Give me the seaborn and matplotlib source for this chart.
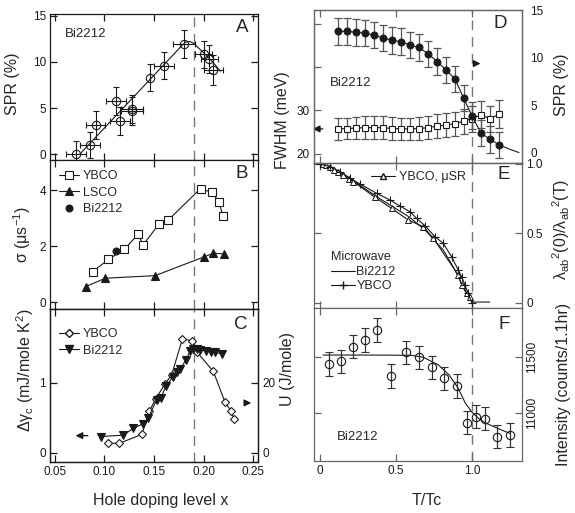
import matplotlib
matplotlib.use("Agg")
import matplotlib.pyplot as plt
from matplotlib.lines import Line2D
import seaborn as sns

# ---- panel A: SPR of Bi2212 vs hole doping
a_x = [0.071, 0.085, 0.091, 0.112, 0.116, 0.128, 0.128, 0.146, 0.160, 0.180, 0.200, 0.206, 0.210]
a_spr = [0.0, 1.0, 3.2, 5.8, 3.6, 4.9, 4.7, 8.3, 9.6, 11.9, 10.8, 10.3, 9.1]
a_xerr = [0.01, 0.01, 0.01, 0.01, 0.01, 0.011, 0.011, 0.0, 0.0105, 0.011, 0.009, 0.009, 0.01]
a_yerr = [1.45, 1.45, 1.5, 1.5, 1.5, 1.5, 1.5, 1.5, 1.5, 1.5, 1.5, 1.5, 1.6]
a_fit_x = [0.075, 0.178, 0.182, 0.186, 0.190, 0.200, 0.210, 0.217]
a_fit_y = [0.0, 11.75, 12.15, 12.2, 12.0, 11.0, 9.9, 9.0]

# ---- panel B: muSR relaxation rate
b_ybco_x = [0.088, 0.104, 0.120, 0.134, 0.139, 0.155, 0.1645, 0.197, 0.2086, 0.2157, 0.2197]
b_ybco = [1.09, 1.53, 1.89, 2.43, 2.05, 2.79, 2.94, 4.06, 3.92, 3.57, 3.07]
b_lsco_x = [0.081, 0.101, 0.151, 0.2005, 0.210, 0.2207]
b_lsco = [0.56, 0.86, 0.95, 1.62, 1.75, 1.73]
b_bi_x = [0.1116]
b_bi = [1.83]

# ---- panel C: specific heat jump / condensation energy
c_ybco_x = [0.104, 0.115, 0.1376, 0.1453, 0.1517, 0.1611, 0.1678, 0.1786, 0.1884, 0.1937,
            0.2099, 0.2217, 0.2275, 0.2308]
c_ybco = [0.134, 0.134, 0.26, 0.59, 0.77, 0.98, 1.11, 1.62, 1.60, 1.43, 1.16, 0.72, 0.60, 0.48]
c_bi_x = [0.0961, 0.119, 0.129, 0.1384, 0.144, 0.1527, 0.1568, 0.1621, 0.1695, 0.1735, 0.1763,
          0.1823, 0.1864, 0.1898, 0.1932, 0.1965, 0.2025, 0.2072, 0.2116, 0.219]
c_bi_u = [4.6, 5.0, 6.9, 8.2, 9.8, 15.1, 15.5, 19.1, 21.7, 22.9, 23.8, 26.5, 28.9, 29.5,
          29.5, 29.4, 29.0, 28.8, 28.6, 28.2]

# ---- panel D: Bi2212 FWHM and SPR vs T/Tc
d_t = [0.116, 0.175, 0.237, 0.296, 0.355, 0.414, 0.474, 0.533, 0.592, 0.651, 0.713, 0.772,
       0.831, 0.89, 0.945, 1.0, 1.06, 1.12, 1.18]
d_spr = [12.8, 12.8, 12.7, 12.6, 12.4, 12.1, 11.85, 11.7, 11.35, 11.1, 10.4, 9.6, 8.7, 7.75,
         5.75, 3.9, 2.05, 1.4, 0.8]
d_spr_err = [1.4] * 19
d_fwhm = [25.7, 25.8, 25.9, 26.0, 26.0, 26.0, 25.8, 25.75, 25.7, 25.8, 26.0, 26.4, 26.6, 26.9,
          27.5, 28.1, 29.0, 28.0, 29.2]
d_fwhm_err = [2.5, 2.5, 2.6, 2.6, 2.6, 2.6, 2.6, 2.6, 2.6, 2.6, 2.7, 2.7, 2.8, 2.8, 2.9, 3.0,
              3.1, 3.1, 3.2]
d_tail_t = [1.18, 1.25, 1.31]
d_tail_spr = [0.8, 0.35, 0.0]

# ---- panel E: superfluid density
e_ybco_t = [0.0, 0.066, 0.132, 0.197, 0.263, 0.373, 0.461, 0.526, 0.592, 0.636, 0.691, 0.757,
            0.811, 0.866, 0.910, 0.932, 0.954, 0.976, 1.0]
e_ybco = [1.0, 0.981, 0.945, 0.897, 0.856, 0.788, 0.74, 0.697, 0.656, 0.608, 0.555, 0.476,
          0.428, 0.332, 0.236, 0.188, 0.128, 0.067, 0.0]
e_bi_t = [0.0, 0.154, 0.373, 0.592, 0.702, 0.811, 0.877, 0.921, 0.965, 1.0, 1.118]
e_bi = [1.0, 0.928, 0.764, 0.615, 0.512, 0.380, 0.259, 0.163, 0.067, 0.005, 0.005]
e_musr_t = [0.02, 0.04, 0.066, 0.09, 0.12, 0.154, 0.19, 0.219, 0.362, 0.471, 0.581, 0.68,
            0.746, 0.910, 0.932, 0.965, 0.987]
e_musr = [1.0, 0.99, 0.98, 0.96, 0.94, 0.921, 0.89, 0.873, 0.76, 0.68, 0.596, 0.548, 0.464,
          0.2, 0.128, 0.067, 0.043]

# ---- panel F: neutron intensity
f_t = [0.061, 0.138, 0.215, 0.298, 0.377, 0.465, 0.564, 0.653, 0.735, 0.814, 0.903, 0.965,
       1.024, 1.086, 1.167, 1.248]
f_int = [11439, 11464, 11596, 11656, 11747, 11331, 11545, 11500, 11410, 11310, 11241, 10909,
         10963, 10946, 10783, 10798]
f_err = [105] * 16
f_fit_t = [0.02, 0.3, 0.6, 0.68, 0.78, 0.85, 0.91, 0.955, 1.0, 1.05, 1.1, 1.2, 1.25]
f_fit = [11520, 11520, 11518, 11500, 11430, 11340, 11220, 11090, 11005, 10940, 10900, 10840, 10813]

sns.set_theme(style="ticks")
plt.rcParams["font.family"] = ["Liberation Sans", "DejaVu Sans"]
plt.rcParams["mathtext.fontset"] = "custom"
plt.rcParams["mathtext.rm"] = "Liberation Sans"
plt.rcParams["mathtext.it"] = "Liberation Sans:italic"

fig = plt.figure(figsize=(5.75, 5.13), dpi=100)
W, H = 575.0, 513.0


def box(x0, x1, y0, y1):
    return [x0 / W, 1 - y1 / H, (x1 - x0) / W, (y1 - y0) / H]


ax_a = fig.add_axes(box(50, 258, 14, 160))
ax_b = fig.add_axes(box(50, 258, 160, 309))
ax_c = fig.add_axes(box(50, 258, 309, 462))
ax_d = fig.add_axes(box(314, 522, 10, 163))
ax_e = fig.add_axes(box(314, 522, 163, 308))
ax_f = fig.add_axes(box(314, 522, 308, 461))

TS = 8.5
LS = 11.5


def style(ax, col):
    for s in ax.spines.values():
        s.set_color(col)
        s.set_linewidth(0.9)
    ax.tick_params(direction="in", length=5, width=0.9, color=col, top=True, right=True,
                   labelsize=TS, pad=3, labelcolor="k")


def ylab(ax, text, x, y):
    ax.set_ylabel(text, fontsize=LS)
    ax.yaxis.set_label_coords(x, y)
    ax.yaxis.label.set_va("center")
    ax.yaxis.label.set_ha("center")


def xlab(ax, text, x, y):
    ax.set_xlabel(text, fontsize=LS)
    ax.xaxis.set_label_coords(x, y)
    ax.xaxis.label.set_va("center")


dash = dict(color="#777777", lw=1.0, ls=(0, (7, 5)), zorder=0)
arrow = dict(arrowstyle="-|>", color="k", lw=1.0, mutation_scale=10)
legkw = dict(frameon=False, fontsize=9, handlelength=1.6, handletextpad=0.3,
             labelspacing=0.35, borderaxespad=0.3)

# ---------------- A
style(ax_a, "k")
ax_a.axvline(0.19, **dash)
sns.lineplot(x=a_fit_x, y=a_fit_y, ax=ax_a, color="k", lw=0.8, sort=False, estimator=None)
ax_a.errorbar(a_x, a_spr, yerr=a_yerr, xerr=a_xerr, fmt="o", mfc="none", mec="k", ms=6,
              mew=0.8, ecolor="k", elinewidth=0.8, capsize=2.5, capthick=0.8)
ax_a.set_xlim(0.045, 0.255)
ax_a.set_ylim(-0.62, 15.18)
ax_a.set_xticks([0.05, 0.10, 0.15, 0.20, 0.25])
ax_a.set_yticks([0, 5, 10, 15])
ax_a.tick_params(labelbottom=False)
ylab(ax_a, "SPR (%)", -0.18, 0.52)
ax_a.text(0.07, 0.86, "Bi2212", transform=ax_a.transAxes, fontsize=9.5, va="center")
ax_a.text(0.955, 0.91, "A", transform=ax_a.transAxes, fontsize=13.5, ha="right", va="center")

# ---------------- B
style(ax_b, "k")
ax_b.axvline(0.19, **dash)
sns.lineplot(x=b_ybco_x, y=b_ybco, ax=ax_b, color="k", lw=0.8, marker="s", ms=5.5,
             mfc="white", mec="k", mew=0.8, sort=False, estimator=None, label="YBCO")
sns.lineplot(x=b_lsco_x, y=b_lsco, ax=ax_b, color="k", lw=0.8, marker="^", ms=5.5,
             mfc="k", mec="k", mew=0.8, sort=False, estimator=None, label="LSCO")
sns.lineplot(x=b_bi_x, y=b_bi, ax=ax_b, color="k", lw=0, marker="o", ms=5,
             mfc="k", mec="k", sort=False, estimator=None, label="Bi2212")
ax_b.set_xlim(0.045, 0.255)
ax_b.set_ylim(-0.24, 5.08)
ax_b.set_xticks([0.05, 0.10, 0.15, 0.20, 0.25])
ax_b.set_yticks([0, 2, 4])
ax_b.tick_params(labelbottom=False)
ylab(ax_b, "σ (μs$^{-1}$)", -0.135, 0.5)
ax_b.legend(loc="upper left", bbox_to_anchor=(0.0, 0.99), **legkw)
ax_b.text(0.95, 0.91, "B", transform=ax_b.transAxes, fontsize=13.5, ha="right", va="center")

# ---------------- C
style(ax_c, "k")
ax_c.tick_params(right=False)
ax_c.axvline(0.19, **dash)
sns.lineplot(x=c_ybco_x, y=c_ybco, ax=ax_c, color="k", lw=0.8, marker="D", ms=4,
             mfc="white", mec="k", mew=0.8, sort=False, estimator=None, legend=False)
ax_c2 = ax_c.twinx()
style(ax_c2, "k")
ax_c2.tick_params(left=False, top=False, right=True, labelright=True)
sns.lineplot(x=c_bi_x, y=c_bi_u, ax=ax_c2, color="k", lw=0.8, marker="v", ms=5.5,
             mfc="k", mec="k", mew=0.8, sort=False, estimator=None, legend=False)
ax_c.set_xlim(0.045, 0.255)
ax_c.set_ylim(-0.133, 2.05)
ax_c2.set_ylim(-2.66, 41.0)
ax_c.set_xticks([0.05, 0.10, 0.15, 0.20, 0.25])
ax_c.set_xticklabels(["0.05", "0.10", "0.15", "0.20", "0.25"])
ax_c.set_yticks([0, 1])
ax_c2.set_yticks([0, 20])
ylab(ax_c, r"Δγ$_\mathrm{c}$ (mJ/mole K$^2$)", -0.12, 0.6)
ylab(ax_c2, "U (J/mole)", 1.14, 0.61)
xlab(ax_c, "Hole doping level x", 0.53, -0.25)
hc = [Line2D([], [], color="k", lw=0.8, marker="D", ms=4, mfc="white", mec="k"),
      Line2D([], [], color="k", lw=0.8, marker="v", ms=5.5, mfc="k", mec="k")]
ax_c.legend(hc, ["YBCO", "Bi2212"], loc="upper left", bbox_to_anchor=(0.0, 0.93), **legkw)
ax_c.text(0.95, 0.90, "C", transform=ax_c.transAxes, fontsize=13.5, ha="right", va="center")
ax_c.annotate("", xy=(0.068, 0.243), xytext=(0.086, 0.243), arrowprops=arrow)
ax_c.annotate("", xy=(0.251, 0.71), xytext=(0.239, 0.71), arrowprops=arrow)

# ---------------- D
grey = "#666666"
style(ax_d, grey)
ax_d.axvline(1.0, **dash)
ax_d.errorbar(d_t, d_fwhm, yerr=d_fwhm_err, fmt="none", ecolor="#555555", elinewidth=0.9,
              capsize=3, capthick=0.9)
sns.lineplot(x=d_t, y=d_fwhm, ax=ax_d, color="k", lw=0.8, marker="s", ms=5,
             mfc="white", mec="k", mew=0.8, sort=False, estimator=None, legend=False)
ax_d2 = ax_d.twinx()
style(ax_d2, grey)
ax_d2.tick_params(left=False, top=False, right=True, labelright=True, length=0, pad=6)
ax_d2.errorbar(d_t, d_spr, yerr=d_spr_err, fmt="none", ecolor="#555555", elinewidth=0.9,
               capsize=3, capthick=0.9)
sns.lineplot(x=d_tail_t, y=d_tail_spr, ax=ax_d2, color="k", lw=0.8, sort=False,
             estimator=None, legend=False)
sns.lineplot(x=d_t, y=d_spr, ax=ax_d2, color="k", lw=0.8, marker="o", ms=5,
             mfc="k", mec="k", sort=False, estimator=None, legend=False)
ax_d.set_xlim(-0.04, 1.33)
ax_d.set_ylim(17.8, 53.3)
ax_d2.set_ylim(-1.1, 15.05)
ax_d.set_xticks([0, 0.5, 1.0])
ax_d.set_yticks([20, 30, 40, 50])
ax_d.set_yticklabels(["20", "30", "", ""])
ax_d2.set_yticks([0, 5, 10, 15])
ax_d.tick_params(labelbottom=False)
ylab(ax_d, "FWHM (meV)", -0.15, 0.28)
ylab(ax_d2, "SPR (%)", 1.19, 0.51)
ax_d.text(0.077, 0.52, "Bi2212", transform=ax_d.transAxes, fontsize=9.5, va="center")
ax_d.text(0.93, 0.91, "D", transform=ax_d.transAxes, fontsize=13.5, ha="right", va="center")
ax_d.annotate("", xy=(-0.066, 25.7), xytext=(0.035, 25.7), arrowprops=arrow,
              annotation_clip=False)
ax_d2.annotate("", xy=(1.075, 9.4), xytext=(1.0, 9.4), arrowprops=arrow)

# ---------------- E
style(ax_e, grey)
ax_e.tick_params(labelleft=False, labelright=True)
ax_e.axvline(1.0, **dash)
sns.lineplot(x=e_bi_t, y=e_bi, ax=ax_e, color="k", lw=0.8, sort=False, estimator=None,
             legend=False)
sns.lineplot(x=e_musr_t, y=e_musr, ax=ax_e, color="k", lw=0.8, marker="^", ms=5,
             mfc="white", mec="k", mew=0.7, sort=False, estimator=None, legend=False)
sns.lineplot(x=e_ybco_t, y=e_ybco, ax=ax_e, color="k", lw=0.8, marker="+", ms=6,
             mec="k", mew=0.8, sort=False, estimator=None, legend=False)
ax_e.set_xlim(-0.04, 1.33)
ax_e.set_ylim(-0.038, 1.007)
ax_e.set_xticks([0, 0.5, 1.0])
ax_e.set_yticks([0, 0.5, 1.0])
ax_e.set_yticklabels(["0", "0.5", "1.0"])
ax_e.tick_params(labelbottom=False)
ax_e.yaxis.set_label_position("right")
ylab(ax_e, r"λ$_\mathrm{ab}$$^2$(0)/λ$_\mathrm{ab}$$^2$(T)", 1.19, 0.54)
he1 = [Line2D([], [], color="k", lw=0.8, marker="^", ms=5, mfc="white", mec="k")]
leg1 = ax_e.legend(he1, ["YBCO, μSR"], loc="upper left", bbox_to_anchor=(0.22, 1.02),
                   frameon=False, fontsize=9, handlelength=1.9, handletextpad=0.3)
ax_e.add_artist(leg1)
he2 = [Line2D([], [], color="k", lw=0.8),
       Line2D([], [], color="k", lw=0.8, marker="+", ms=6, mec="k")]
ax_e.legend(he2, ["Bi2212", "YBCO"], title="Microwave", title_fontsize=9,
            alignment="left", loc="lower left", bbox_to_anchor=(0.03, 0.03), frameon=False,
            fontsize=9, handlelength=1.9, handletextpad=0.1, labelspacing=0.2)
ax_e.text(0.94, 0.92, "E", transform=ax_e.transAxes, fontsize=13.5, ha="right", va="center")

# ---------------- F
style(ax_f, grey)
ax_f.tick_params(labelleft=False, labelright=True)
ax_f.axvline(1.0, **dash)
sns.lineplot(x=f_fit_t, y=f_fit, ax=ax_f, color="k", lw=0.8, sort=False, estimator=None,
             legend=False)
ax_f.errorbar(f_t, f_int, yerr=f_err, fmt="o", mfc="none", mec="k", ms=6, mew=0.8,
              ecolor="#333333", elinewidth=0.9, capsize=3, capthick=0.9)
ax_f.set_xlim(-0.04, 1.33)
ax_f.set_ylim(10563, 11945)
ax_f.set_xticks([0, 0.5, 1.0])
ax_f.set_xticklabels(["0", "0.5", "1.0"])
ax_f.set_yticks([11000, 11500])
for lab in ax_f.get_yticklabels():
    lab.set_rotation(90)
    lab.set_va("center")
ax_f.yaxis.set_label_position("right")
ylab(ax_f, "Intensity (counts/1.1hr)", 1.2, 0.5)
xlab(ax_f, "T/Tc", 0.54, -0.255)
ax_f.text(0.11, 0.154, "Bi2212", transform=ax_f.transAxes, fontsize=9.5, va="center")
ax_f.text(0.94, 0.89, "F", transform=ax_f.transAxes, fontsize=13.5, ha="right", va="center")

fig.savefig("out.png", dpi=100)
